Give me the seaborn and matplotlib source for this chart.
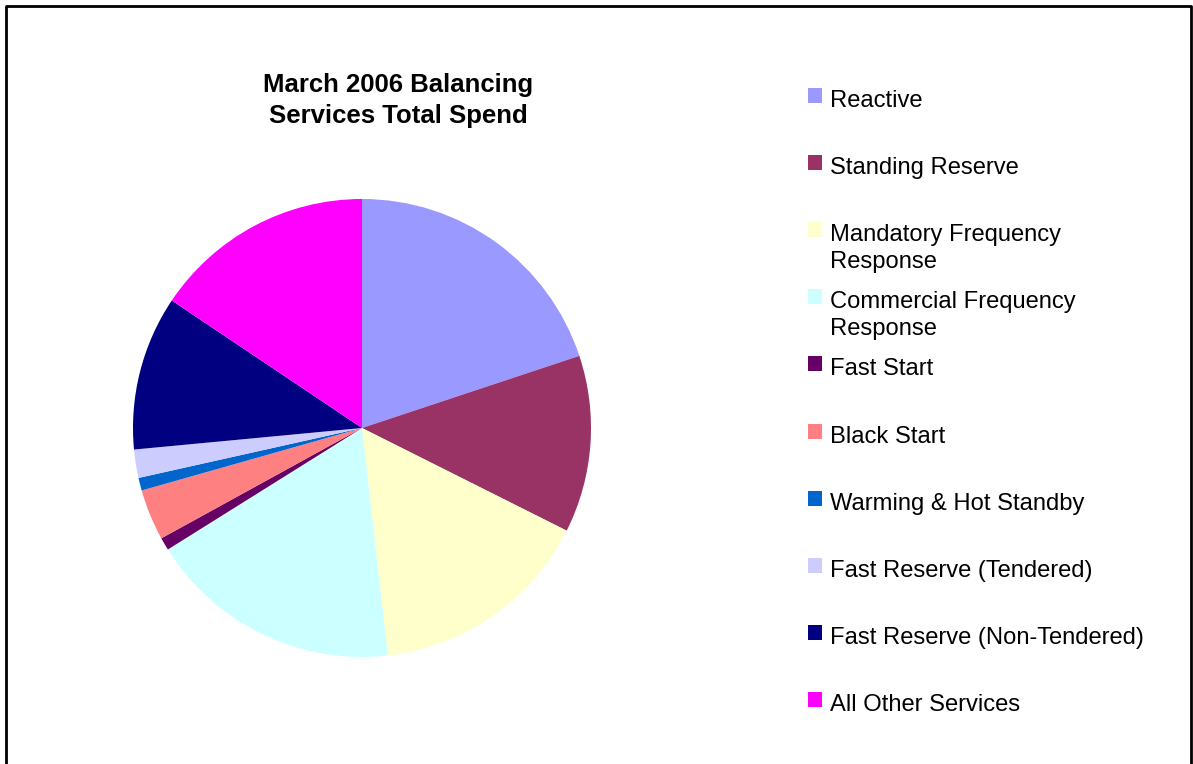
import matplotlib
matplotlib.use("Agg")
import matplotlib.pyplot as plt
import seaborn as sns
from matplotlib.patches import Rectangle
from matplotlib.lines import Line2D

# Data (share of total spend, %)
services = ['Reactive', 'Standing Reserve', 'Mandatory Frequency\nResponse',
            'Commercial Frequency\nResponse', 'Fast Start', 'Black Start',
            'Warming & Hot Standby', 'Fast Reserve (Tendered)',
            'Fast Reserve (Non-Tendered)', 'All Other Services']
spend = [19.9, 12.5, 15.8, 17.9, 0.9, 3.6, 0.9, 2.0, 10.9, 15.6]
colours = ['#9999FF', '#993366', '#FFFFCC', '#CCFFFF', '#660066',
           '#FF8080', '#0066CC', '#CCCCFF', '#000080', '#FF00FF']
title_lines = ['March 2006 Balancing', 'Services Total Spend']

sns.set_style("white")
plt.rcParams['font.family'] = ['Liberation Sans', 'DejaVu Sans']

W, H = 1193, 764
fig = plt.figure(figsize=(W / 100, H / 100), dpi=100)

# pie centred at (362, 428) px with radius 229 px
cx, cy, r = 362, 428, 229
ax = fig.add_axes([(cx - r) / W, (H - cy - r) / H, 2 * r / W, 2 * r / H])
ax.pie(spend, colors=colours, startangle=90, counterclock=False,
       wedgeprops=dict(linewidth=0, antialiased=True))
ax.set_xlim(-1, 1)
ax.set_ylim(-1, 1)
ax.set_aspect('equal')
ax.axis('off')

# title, one text per line so baselines can be matched
for j, line in enumerate(title_lines):
    fig.text(398 / W, 1 - (91.7 + 31.6 * j) / H, line, ha='center',
             va='baseline', fontsize=18.5, fontweight='bold', color='black')

# legend, one entry every ~67 px, marker aligned with first text line
for i, (lab, col) in enumerate(zip(services, colours)):
    base = 107 + 67.1 * i
    fig.patches.append(Rectangle((808 / W, 1 - (base - 4) / H), 14 / W, 15 / H,
                                 transform=fig.transFigure, facecolor=col,
                                 edgecolor='none'))
    for j, line in enumerate(lab.split('\n')):
        fig.text(830 / W, 1 - (base + 27 * j) / H, line, ha='left',
                 va='baseline', fontsize=17.1, color='black')

# chart frame (bottom edge cut off)
frame = Line2D([6.5 / W, 6.5 / W, 1191 / W, 1191 / W],
               [0, 1 - 6 / H, 1 - 6 / H, 0], transform=fig.transFigure,
               color='black', linewidth=2)
fig.lines.append(frame)

fig.savefig('out.png', dpi=100)
